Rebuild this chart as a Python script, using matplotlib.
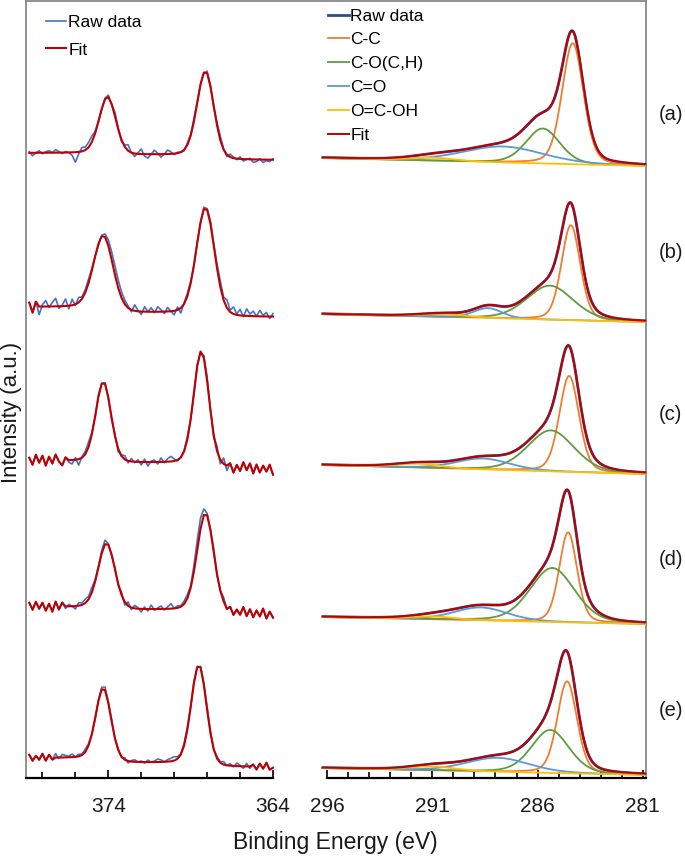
"""Ag 3d / C 1s XPS fits, five stacked samples (a)-(e)."""
import matplotlib
matplotlib.use("Agg")
import matplotlib.pyplot as plt
import numpy as np

plt.rcParams["font.family"] = ["Liberation Sans", "DejaVu Sans"]

# ---- data (intensity in arbitrary units, stacked offsets included) ----
sample_labels = ["(a)", "(b)", "(c)", "(d)", "(e)"]

# Ag 3d region: peak centres (eV), FWHM (eV), heights, and background levels
ag_centres = [[374.05, 368.10], [374.30, 368.10], [374.30, 368.35], [374.10, 368.10], [374.30, 368.50]]
ag_fwhm = [[1.2, 1.2], [1.4, 1.3], [1.1, 1.1], [1.2, 1.2], [1.1, 1.1]]
ag_heights = [[57, 86], [74, 107], [80, 114], [65, 98], [72, 100]]
ag_bg_high = [625, 471, 317, 171, 20]   # background above 374 eV
ag_bg_mid = [623, 465, 315, 168, 15]    # between the doublet
ag_bg_low = [618, 461, 310, 165, 11]    # below 368 eV
ag_fit_range = [(378.8, 364.0), (378.2, 364.0), (376.5, 366.8), (376.6, 366.9), (377.2, 365.4)]

# raw-data deviation from fit, 0.2 eV steps from 378.8 to 364.0 eV
ag_resid = [
    [1, -3, 0, 2, -1, 1, 2, 0, 3, 1, -1, 1, 0, -3, -10, -2, 4, 3, 5, 6, 2, 0, -1, 1, 2,
     -1, 4, 1, -2, 2, 6, 0, -3, 1, 5, -2, -4, 0, 4, 1, -3, 0, 4, 2, -1, 1, 0, -1, 2, 1,
     3, 1, 0, -1, 2, 1, -1, 3, 4, 1, -2, 3, 1, -1, 2, -2, 0, 1, -3, -2, 1, -3, -1, -2, 1],
    [4, -6, 5, -8, 2, 6, -1, 4, 8, -2, 1, 7, -3, 6, -1, 5, 2, 3, 4, 2, 0, -2, 1, 3, 6,
     8, 9, 8, 6, 4, 2, -2, 6, 1, -3, 5, 0, 4, -1, 5, 2, -2, 4, 0, -4, 3, -5, 1, 3, 2,
     0, 1, -1, 2, 1, 3, 2, 4, 6, 3, 8, 2, 7, 1, 6, -1, 7, 2, 5, 0, 6, 1, 4, -2, 3],
    [3, -4, 6, -2, 5, -5, 4, -3, 6, -1, -5, 3, -2, -4, 2, -6, 1, 3, 5, 2, -1, 2, 0, 1, -1,
     -2, 2, -3, 1, 4, -2, 3, -1, 2, -3, 3, -4, 1, 2, -2, 4, -1, 3, 5, 2, -1, 0, 1, 3, 0,
     -2, 1, -1, 2, 4, 1, -3, 5, -4, 6, -5, 3, -6, 2, -4, 5, -3, 4, -6, 3, -5, 2, -4, 3, -7],
    [4, -3, 5, -2, 4, -4, 3, -5, 5, -3, 4, -2, 2, 0, -3, 3, 2, 4, 3, 5, 2, 1, 3, 4, 1,
     -1, 2, -2, 3, -3, 4, -2, 3, 1, -3, 2, -2, 4, -1, 1, 3, -1, 2, 5, 0, 2, 1, 3, 4, 2,
     6, 10, 11, 6, 2, 1, 3, -2, 0, 4, -2, 3, -4, 2, -3, 5, -4, 3, -5, 2, -4, 4, -6, 1, -5],
    [3, -3, 2, -2, 4, -3, 3, -2, 4, -1, 3, 2, 1, 3, 0, 2, 1, 3, 2, 0, -1, 1, 2, 3, 1,
     2, 0, 1, -1, 2, -2, 1, 2, 0, 1, -1, 2, 0, 1, 3, 2, 0, 2, 3, 4, 2, 1, 2, 3, 1,
     2, -1, 1, 2, 3, 2, 0, 2, 1, 3, 0, 2, -1, 3, 1, -2, 3, -2, 2, -3, 3, -2, 4, -3, -1],
]

# C 1s region: components C-C, C-O(C,H), C=O, O=C-OH
c1s_names = ["C-C", "C-O(C,H)", "C=O", "O=C-OH"]
c1s_colors = ["#ED7D31", "#5E9C3E", "#5B9BD5", "#FFC000"]
c1s_centres = [[284.33, 285.75, 287.65, 291.0], [284.42, 285.42, 288.36, 290.5],
               [284.50, 285.37, 288.60, 291.7], [284.55, 285.30, 288.70, 291.0],
               [284.60, 285.40, 287.90, 291.0]]
c1s_fwhm = [[1.2, 1.9, 4.5, 2.5], [1.05, 2.6, 1.6, 2.5], [1.1, 2.6, 3.0, 2.5],
            [1.0, 2.5, 3.0, 2.5], [1.1, 2.1, 3.5, 2.5]]
c1s_heights = [[121, 35, 16, 3], [95, 34, 10, 3], [96, 41, 11, 4], [90, 54, 13, 3], [92, 43, 14, 4]]
c1s_bg_high = [620, 464, 313, 161, 10]
c1s_bg_low = [612, 456, 304, 154, 3]


def pseudo_voigt(x, centre, fwhm, height, eta=0.25):
    d = (x - centre) / fwhm
    return height * ((1 - eta) * np.exp(-4 * np.log(2) * d ** 2) + eta / (1 + 4 * d ** 2))


RAW_L = "#4472C4"
RAW_R = "#2B4C8C"
FIT = "#C00000"

fig = plt.figure(figsize=(6.85, 8.57), dpi=100)
y0 = 1 - 778 / 857
h = 777 / 857

frame = fig.add_axes([26 / 685, y0, 620 / 685, h], zorder=0)
frame.set_xticks([])
frame.set_yticks([])
frame.patch.set_visible(False)
frame.spines["bottom"].set_visible(False)
for s in ["top", "left", "right"]:
    frame.spines[s].set_color("#7f7f7f")
    frame.spines[s].set_linewidth(1.2)

axL = fig.add_axes([26 / 685, y0, 247 / 685, h], zorder=1)
axR = fig.add_axes([322 / 685, y0, 324 / 685, h], zorder=1)

# ---- left: Ag 3d ----
for i in range(5):
    res = np.array(ag_resid[i], dtype=float)
    x = np.linspace(378.8, 364.0, len(res))
    peaks = [pseudo_voigt(x, c, w, hh, eta=0.15)
             for c, w, hh in zip(ag_centres[i], ag_fwhm[i], ag_heights[i])]
    steps = []
    for p in peaks:
        c = np.cumsum(p[::-1])[::-1]
        steps.append(c / c[0])
    bg = ag_bg_low[i] + (ag_bg_mid[i] - ag_bg_low[i]) * steps[1] + (ag_bg_high[i] - ag_bg_mid[i]) * steps[0]
    model = bg + peaks[0] + peaks[1]
    raw = model + res
    lo, hi = ag_fit_range[i]
    fit = np.where((x <= lo) & (x >= hi), model, raw)
    axL.plot(x, raw, color=RAW_L, lw=1.2, clip_on=False, label="Raw data" if i == 0 else None)
    axL.plot(x, fit, color=FIT, lw=1.5, clip_on=False, label="Fit" if i == 0 else None)

axL.set_xlim(379, 364)
axL.set_xticks([374, 364])
axL.set_xticks([378, 376, 372, 370, 368, 366], minor=True)
axL.legend(loc="upper left", bbox_to_anchor=(0.03, 0.998), frameon=False, fontsize=12.5,
           handlelength=1.15, handletextpad=0.15, labelspacing=0.72, borderpad=0.2)

# ---- right: C 1s ----
xr = np.linspace(296.2, 280.9, 400)
for i in range(5):
    bg = c1s_bg_low[i] + (c1s_bg_high[i] - c1s_bg_low[i]) * (xr - 280.9) / (296.2 - 280.9)
    comps = [pseudo_voigt(xr, c, w, hh)
             for c, w, hh in zip(c1s_centres[i], c1s_fwhm[i], c1s_heights[i])]
    env = bg + sum(comps)
    axR.plot(xr, env, color=RAW_R, lw=2.0, clip_on=False, label="Raw data" if i == 0 else None)
    for name, col, comp in zip(c1s_names, c1s_colors, comps):
        axR.plot(xr, bg + comp, color=col, lw=1.3, clip_on=False, label=name if i == 0 else None)
    axR.plot(xr, env, color=FIT, lw=1.4, clip_on=False, label="Fit" if i == 0 else None)

axR.set_xlim(296.24, 280.85)
axR.set_xticks([296, 291, 286, 281])
axR.set_xticks(np.arange(295, 281, -1), minor=True)
axR.legend(loc="upper left", bbox_to_anchor=(-0.02, 1.006), frameon=False, fontsize=12.5,
           handlelength=1.2, handletextpad=0.1, labelspacing=0.5, borderpad=0.2)

label_y = [663, 525, 363, 218, 68]
for lab, yy in zip(sample_labels, label_y):
    axR.text(1.04, yy, lab, transform=axR.get_yaxis_transform(), fontsize=14.5,
             va="center", ha="left", color="#1a1a1a")

for ax in (axL, axR):
    ax.set_ylim(0, 777)
    ax.patch.set_visible(False)
    ax.set_yticks([])
    for s in ["top", "left", "right"]:
        ax.spines[s].set_visible(False)
    ax.spines["bottom"].set_linewidth(1.6)
    ax.spines["bottom"].set_color("black")
    ax.tick_params(axis="x", which="both", direction="in", width=1.2, labelsize=15,
                   pad=14, colors="black")
    ax.tick_params(axis="x", which="major", length=6)
    ax.tick_params(axis="x", which="minor", length=4.5)
    for t in ax.get_xticklabels():
        t.set_color("#1a1a1a")
axR.spines["bottom"].set_bounds(296, 280.85)

fig.text(335 / 685, 1 - 843 / 857, "Binding Energy (eV)", fontsize=16.5, ha="center",
         va="center", color="#1a1a1a")
fig.text(12 / 685, 1 - 412 / 857, "Intensity (a.u.)", fontsize=16, rotation=90,
         ha="center", va="center", color="#1a1a1a")

fig.savefig("out.png", dpi=100)
